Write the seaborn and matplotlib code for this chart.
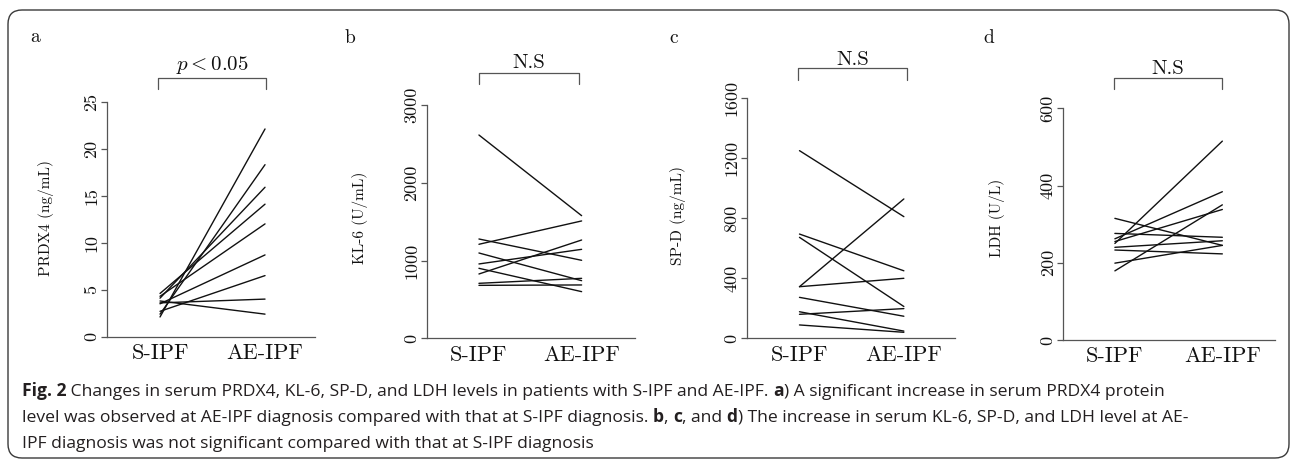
import numpy as np
import pandas as pd
import seaborn as sns
import matplotlib
matplotlib.use("Agg")
import matplotlib.pyplot as plt
from matplotlib.patches import FancyBboxPatch
from matplotlib.text import Annotation
from matplotlib.transforms import IdentityTransform, blended_transform_factory

# ---------------- data ----------------
timepoints = ["S-IPF", "AE-IPF"]
prdx4_s  = [2.1, 2.4, 4.1, 4.6, 4.3, 3.5, 2.7, 3.6, 3.8]
prdx4_ae = [22.1, 18.3, 15.9, 14.1, 12.0, 8.7, 6.5, 4.0, 2.4]
kl6_s    = [2614, 1209, 1277, 1097, 956, 827, 900, 707, 681]
kl6_ae   = [1577, 1509, 1003, 741, 1144, 1264, 600, 771, 686]
spd_s    = [1251, 695, 673, 344, 344, 273, 177, 160, 89]
spd_ae   = [811, 450, 212, 929, 400, 147, 48, 198, 40]
ldh_s    = [315, 276, 262, 250, 255, 240, 233, 199, 179]
ldh_ae   = [245, 266, 384, 515, 338, 257, 223, 245, 350]

panel_letters = ["a", "b", "c", "d"]
ylabels = ["PRDX4 (ng/mL)", "KL-6 (U/mL)", "SP-D (ng/mL)", "LDH (U/L)"]
ymaxes = [25, 3000, 1600, 600]
yticks = [[0, 5, 10, 15, 20, 25], [0, 1000, 2000, 3000],
          [0, 400, 800, 1200, 1600], [0, 200, 400, 600]]
notes = [r"$p < 0.05$", "N.S", "N.S", "N.S"]
series = [(prdx4_s, prdx4_ae), (kl6_s, kl6_ae), (spd_s, spd_ae), (ldh_s, ldh_ae)]

# ---------------- style ----------------
sns.set_style("white")
plt.rcParams["font.family"] = ["cmr10", "DejaVu Serif"]
plt.rcParams["mathtext.fontset"] = "cm"
plt.rcParams["axes.formatter.use_mathtext"] = True

W, H = 1292, 461
fig = plt.figure(figsize=(W / 100, H / 100), dpi=100)
fig.patch.set_facecolor("white")

# layout in pixels: (spine_x, right_x, top_y, bottom_y, xlim)
layout = [
    (107.0, 315.0, 101.7, 336.7, (-0.505, 1.476)),
    (427.0, 635.0, 105.0, 338.3, (-0.506, 1.52)),
    (747.3, 955.0, 98.3, 338.3, (-0.50, 1.49)),
    (1063.3, 1275.0, 108.3, 340.0, (-0.48, 1.49)),
]
letter_pos = [(30, 42), (345, 43), (669, 43), (983, 43)]
ylabel_pos = [(-0.293, 0.505), (-0.322, 0.516), (-0.334, 0.51), (-0.313, 0.527)]
# bracket: (x0, x1 data), (top, bottom, text baseline) axes fraction
brackets = [
    ((-0.02, 1.01), (1.101, 1.054, 1.134)),
    ((0.0, 0.97), (1.137, 1.090, 1.157)),
    ((-0.01, 1.03), (1.126, 1.076, 1.140)),
    ((-0.01, 1.0), (1.131, 1.083, 1.148)),
]

spine_col = "#555555"
for i in range(4):
    xl, xr, yt, yb, xlim = layout[i]
    ax = fig.add_axes([xl / W, 1 - yb / H, (xr - xl) / W, (yb - yt) / H])
    s_vals, ae_vals = series[i]
    n = len(s_vals)
    df = pd.DataFrame({
        "patient": list(range(n)) * 2,
        "time": [timepoints[0]] * n + [timepoints[1]] * n,
        "value": list(s_vals) + list(ae_vals),
    })
    sns.lineplot(data=df, x="time", y="value", units="patient", estimator=None,
                 sort=False, color="#111111", lw=1.0, ax=ax, legend=False)
    ax.set_xlim(*xlim)
    ax.set_ylim(0, ymaxes[i])
    ax.set_yticks(yticks[i])
    ax.set_yticklabels([str(t) for t in yticks[i]])
    ax.set_xlabel("")
    ax.set_ylabel("")
    for sp in ["top", "right"]:
        ax.spines[sp].set_visible(False)
    for sp in ["left", "bottom"]:
        ax.spines[sp].set_color(spine_col)
        ax.spines[sp].set_linewidth(0.9)
    ax.tick_params(axis="y", left=True, length=4, width=0.9, color=spine_col,
                   pad=1.5, labelsize=13, labelrotation=90, labelcolor="#111")
    for lab in ax.get_yticklabels():
        lab.set_va("center")
    ax.tick_params(axis="x", bottom=False, length=0, pad=5, labelsize=16,
                   labelcolor="#111")
    ax.text(ylabel_pos[i][0], ylabel_pos[i][1], ylabels[i], rotation=90,
            ha="center", va="center", fontsize=11, transform=ax.transAxes,
            color="#111")
    # bracket
    (bx0, bx1), (btop, bbot, btxt) = brackets[i]
    tr = blended_transform_factory(ax.transData, ax.transAxes)
    ax.plot([bx0, bx0, bx1, bx1], [bbot, btop, btop, bbot], color=spine_col,
            lw=0.9, transform=tr, clip_on=False)
    ax.text((bx0 + bx1) / 2, btxt, notes[i], ha="center", va="baseline",
            fontsize=15, transform=tr, color="#111")
    # panel letter
    fig.text(letter_pos[i][0] / W, 1 - letter_pos[i][1] / H, panel_letters[i],
             ha="left", va="baseline", fontsize=14, color="#111")

# ---------------- caption ----------------
cap_font = "Open Sans"
cap_size = 12.6
cap_lines = [
    [("Fig. 2", True),
     (" Changes in serum PRDX4, KL-6, SP-D, and LDH levels in patients with S-IPF and AE-IPF. ", False),
     ("a", True), (") A significant increase in serum PRDX4 protein", False)],
    [("level was observed at AE-IPF diagnosis compared with that at S-IPF diagnosis. ", False),
     ("b", True), (", ", False), ("c", True), (", and ", False), ("d", True),
     (") The increase in serum KL-6, SP-D, and LDH level at AE-", False)],
    [("IPF diagnosis was not significant compared with that at S-IPF diagnosis", False)],
]
cap_baselines = [396, 422, 448]
cap_x = 22
for line, yb in zip(cap_lines, cap_baselines):
    prev = None
    for txt, bold in line:
        kw = dict(fontsize=cap_size, family=[cap_font, "DejaVu Sans"],
                  fontweight="bold" if bold else "normal", color="#231f20")
        if prev is None:
            prev = fig.text(cap_x / W, 1 - yb / H, txt, ha="left", va="baseline", **kw)
        else:
            ann = Annotation(txt, xy=(1, 0), xycoords=prev, ha="left",
                             va="bottom", **kw)
            fig.add_artist(ann)
            prev = ann

# ---------------- border ----------------
border = FancyBboxPatch((8, 3), 1281, 448, boxstyle="round,pad=0,rounding_size=14",
                        transform=IdentityTransform(), fill=False,
                        edgecolor="#3a3a3a", lw=1.0)
fig.add_artist(border)

fig.savefig("out.png", dpi=100)
